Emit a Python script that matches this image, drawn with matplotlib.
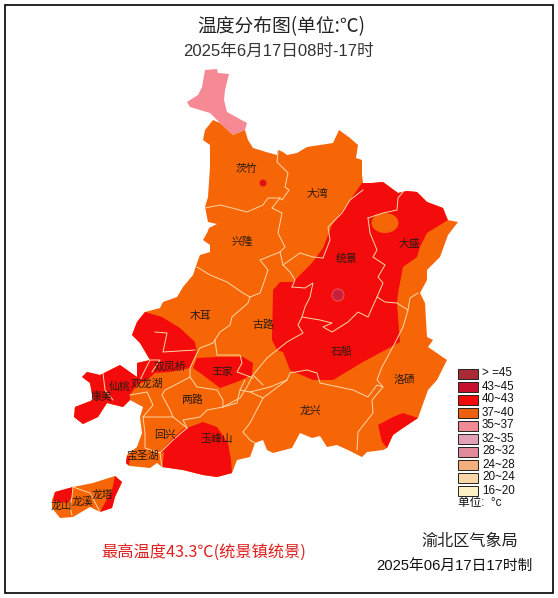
import matplotlib
matplotlib.use("Agg")
import matplotlib.pyplot as plt
from matplotlib.patches import Polygon, Rectangle, Ellipse, Circle

plt.rcParams['font.family'] = ['Noto Sans CJK SC', 'DejaVu Sans']
LATIN = ['Liberation Sans', 'Noto Sans CJK SC']

ORANGE = '#f76606'
RED = '#f40b0b'
PINK = '#f58a94'
LINE = '#f7d9a8'

outline = [(213,120),(220,123),(233,135),(245,130),(248,140),(253,148),(266,152),(277,155),(278,150),(283,152),(287,155),
 (297,153),(307,147),(320,145),(333,143),(339,130),(350,138),(358,145),(356,158),(362,160),(362,175),(363,183),(372,183),(383,182),
 (398,193),(407,191),(417,192),(427,202),(443,208),(447,220),(458,222),(448,235),(440,257),(427,270),(427,280),(420,293),
 (425,303),(427,337),(433,340),(428,347),(447,360),(437,380),(428,390),(418,418),(400,430),(393,435),(387,448),(383,450),(367,452),
 (362,457),(350,451),(337,445),(327,447),(320,436),(312,438),(300,433),(292,448),(273,453),(267,450),(263,440),(255,443),
 (250,457),(237,460),(232,473),(217,477),
 (203,475),(183,470),(162,467),(157,463),(150,468),(130,466),(126,463),(127,455),(137,447),(142,433),(140,417),(143,407),
 (130,400),(123,407),(107,403),(98,417),(83,424),(74,417),(75,407),(93,400),(90,383),(82,377),(87,372),(100,375),(120,365),
 (137,377),(137,363),(150,360),(140,343),(132,335),(137,322),(145,312),(160,308),(163,302),(177,297),(183,287),(193,275),
 (197,263),(200,255),(210,252),(210,245),(203,240),(207,233),(209,228),(217,224),(208,222),(205,207),(208,197),(210,167),(210,145),
 (203,140),(205,130)]
pink_area = [(205,70),(217,69),(218,73),(229,74),(225,90),(224,100),(227,112),(247,123),(245,130),(233,135),(220,123),
 (210,113),(190,107),(187,102),(198,95),(202,87)]
island = [(55,492),(73,487),(93,483),(115,476),(122,482),(115,497),(112,508),(100,512),(90,507),(73,517),(60,518),(52,508),(52,500)]
red_main = [(362,183),(348,203),(332,225),(323,248),(312,263),(293,282),(280,282),(273,290),(272,340),(277,350),(283,352),
 (290,370),(313,380),(333,380),(363,362),(400,342),(397,303),(398,293),(403,267),(417,257),(420,247),(427,233),(448,220),
 (443,208),(427,202),(417,192),(407,191),(398,193),(383,182),(372,183)]
red_west = [(145,312),(162,317),(180,328),(195,342),(197,353),(190,368),(170,372),(155,373),(147,380),(137,385),(130,395),
 (130,400),(123,407),(107,403),(98,417),(83,424),(74,417),(75,407),(93,400),(90,383),(82,377),(87,372),(100,375),(120,365),
 (137,377),(137,363),(150,360),(140,343),(132,335),(137,322)]
red_wang = [(197,358),(217,357),(243,357),(253,363),(252,375),(237,382),(220,388),(203,375),(193,368)]
red_feng = [(162,467),(165,447),(175,437),(187,428),(203,422),(217,427),(228,443),(231,460),(232,473),(217,477),(203,475),(183,470)]
red_strip = [(160,453),(173,438),(187,426),(187,432),(175,442),(165,452)]
red_bao = [(126,463),(127,456),(130,456),(129,466)]
red_se = [(378,425),(393,417),(403,413),(418,418),(400,430),(393,435),(387,448),(382,442)]
red_isl1 = [(55,492),(73,487),(72,497),(68,503),(53,501)]
red_isl2 = [(122,482),(115,476),(112,490),(100,512),(112,508),(115,497)]
red_zones = [red_main, red_west, red_wang, red_feng, red_strip, red_bao, red_se, red_isl1, red_isl2]

borders = [
 [(278,152),(277,162),(283,168),(288,173),(285,187),(289,190),(282,200),(280,198),(268,198),(263,205),(247,212),(232,208),(220,205),(205,208)],
 [(280,198),(272,208),(282,213),(278,233),(285,247),(280,252),(283,265),(290,272),(295,280),(292,287)],
 [(280,252),(260,260),(268,270),(264,282),(260,293),(250,297),(243,293),(227,282),(210,275),(197,267)],
 [(283,265),(300,253),(313,257),(323,258)],
 [(250,297),(248,303),(240,310),(232,317),(230,325),(220,332),(213,343),(200,348),(197,353),(190,368),(190,377),(197,387),
  (217,390),(223,400),(223,407),(207,410),(200,417),(183,420),(187,428)],
 [(363,190),(350,200),(342,213),(328,227),(330,240),(323,258)],
 [(292,287),(305,288),(313,283),(310,297),(305,307),(302,317),(298,325),(303,333),(287,342),(277,350),(267,358),(253,375),
  (247,387),(240,398),(223,407)],
 [(302,317),(320,320),(332,323),(323,327),(332,332),(348,322),(358,312),(368,317),(377,297),(385,302),(397,303),(408,310),
  (403,327),(395,343),(382,367),(377,380),(383,387),(377,385),(368,397),(353,390),(320,383),(317,373),(307,370),(290,373),(287,380),
  (263,398),(250,423),(243,432),(250,440),(255,443)],
 [(287,380),(270,387),(250,392),(240,390),(245,380)],
 [(240,390),(237,403),(223,407)],
 [(263,398),(250,392)],
 [(368,218),(370,233),(377,250),(373,257),(385,265),(378,277),(383,283),(377,297)],
 [(368,218),(383,213),(397,210),(398,198),(403,192)],
 [(408,310),(410,298),(418,293)],
 [(383,387),(372,400),(373,413),(358,432),(357,450)],
 [(190,377),(175,385),(165,390),(162,395),(170,410),(173,417),(187,428)],
 [(173,417),(143,417),(145,433),(145,448),(160,453),(173,440),(187,428)],
 [(160,453),(162,467)],
 [(143,417),(153,405),(147,392),(130,395)],
 [(155,332),(167,333),(163,352),(195,350)],
 [(140,380),(150,360),(160,360),(152,372)],
 [(103,373),(105,390),(113,400)],
 [(73,487),(72,497),(70,507),(72,515)],
 [(73,487),(90,493),(100,512)],
 [(215,340),(217,355),(240,355),(242,363),(237,372),(240,373),(253,378)],
 [(253,375),(263,385)],
]
hole_center = (385,223)
station_high = (338,295)
station_zhu = (263,183)

place_names = ['茨竹','大湾','兴隆','统景','大盛','木耳','古路','石船','王家','洛碛','龙兴','两路','双凤桥','仙桃','双龙湖',
 '康美','回兴','玉峰山','宝圣湖','龙山','龙溪','龙塔']
place_xy = [(246,169),(317,194),(242,242),(347,259),(409,244),(201,316),(263,325),(342,352),(222,372),(404,380),(310,411),
 (192,400),(170,367),(120,387),(147,384),(102,397),(165,435),(217,439),(143,456),(61,506),(82,502),(102,495)]

legend_labels = ['> =45','43~45','40~43','37~40','35~37','32~35','28~32','24~28','20~24','16~20']
legend_colors = ['#a82a35','#c8102e','#f00a0a','#ec600f','#f08a94','#e4a0b4','#e08a9c','#f4b07c','#f9d6a6','#fcf0c4']

fig = plt.figure(figsize=(5.58,5.98), dpi=100)
ax = fig.add_axes([0,0,1,1])
ax.set_xlim(0,558); ax.set_ylim(598,0); ax.axis('off')
ax.add_patch(Rectangle((5,5),548,588,fc='white',ec='black',lw=1.2))

ax.add_patch(Polygon(pink_area,closed=True,fc=PINK,ec='none',zorder=2))
ax.add_patch(Polygon(outline,closed=True,fc=ORANGE,ec='none',zorder=2))
ax.add_patch(Polygon(island,closed=True,fc=ORANGE,ec='none',zorder=2))
for z in red_zones:
    ax.add_patch(Polygon(z,closed=True,fc=RED,ec='none',zorder=3))
ax.add_patch(Ellipse(hole_center,27,20,fc=ORANGE,ec='none',zorder=4))
for b in borders:
    xs,ys = zip(*b)
    ax.plot(xs,ys,color=LINE,lw=0.7,zorder=5,solid_joinstyle='round')
ax.add_patch(Circle(station_high,6,fc='#c8203c',ec='#f0606a',lw=0.6,zorder=6))
ax.add_patch(Circle(station_zhu,3.5,fc='#e0101a',ec='none',zorder=6))

for n,(x,y) in zip(place_names,place_xy):
    ax.text(x,y,n,fontsize=7.8,color='#2a1a10',ha='center',va='center',zorder=7)

ax.text(281,27,'温度分布图(单位:℃)',fontsize=13.5,color='#222222',ha='center',va='center')
ax.text(278,51,'2025年6月17日08时-17时',family=LATIN,fontsize=12,color='#333333',ha='center',va='center')
ax.text(204,552,'最高温度43.3℃(统景镇统景)',fontsize=11.7,color='#e02020',ha='center',va='center')
ax.text(470,541,'渝北区气象局',fontsize=11.6,color='#222222',ha='center',va='center')
ax.text(454,566,'2025年06月17日17时制',family=LATIN,fontsize=10.6,color='#111111',ha='center',va='center')

for i,(lab,col) in enumerate(zip(legend_labels,legend_colors)):
    y = 368.5+13*i
    ax.add_patch(Rectangle((458,y),20,10,fc=col,ec='#222222',lw=0.7,zorder=6))
    ax.text(482,y+5,lab,family=LATIN,fontsize=8.4,color='#111111',ha='left',va='center')
ax.text(458,503,'单位:  °c',family=LATIN,fontsize=8.4,color='#111111',ha='left',va='center')

fig.savefig('out.png',dpi=100)
